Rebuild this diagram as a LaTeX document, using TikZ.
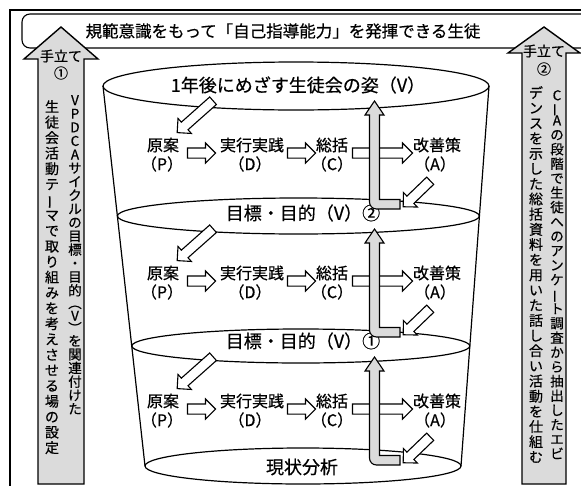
\documentclass[tikz,border=0pt]{standalone}
\usepackage{fontspec}
\usepackage{graphicx}
\newfontfamily\jp[FakeBold=0.5]{Noto Sans CJK JP}
\usetikzlibrary{shapes.arrows,shapes.geometric}
\newcommand\vbar{\rotatebox[origin=c]{90}{ー}}
\newcommand\arrstrut{\rule[-4.5pt]{0pt}{9pt}}
\tikzset{
 ell/.style={ellipse, draw=black, line width=1.2pt, inner sep=0pt, outer sep=0pt},
 sideline/.style={draw=black, line width=1.2pt},
 hollow/.style={single arrow, draw=black, fill=white, line width=1.1pt, single arrow head extend=5pt, single arrow tip angle=90, inner sep=0pt, outer sep=0pt},
 graybody/.style={draw=black, fill=gray!28, line width=1.1pt, line join=miter},
 bigbody/.style={draw=black, fill=gray!28, line width=1.4pt, line join=miter},
 titlef/.style={font=\jp\fontsize{16.5}{18}\selectfont, inner sep=0pt},
 vlab/.style={font=\jp\fontsize{18}{20}\selectfont, inner sep=0pt},
 lbl/.style={font=\jp\fontsize{16}{18}\selectfont, inner sep=0pt},
 small/.style={font=\jp\fontsize{14}{16}\selectfont, inner sep=0pt},
 colA/.style={font=\jp\fontsize{14}{15.5}\selectfont, align=center, inner sep=0pt, anchor=north},
 colAr/.style={font=\jp\fontsize{13.5}{13.6}\selectfont, align=center, inner sep=0pt, anchor=north},
 colB/.style={font=\jp\fontsize{14}{15.17}\selectfont, align=center, inner sep=0pt, anchor=north},
 colC/.style={font=\jp\fontsize{13.5}{14.5}\selectfont, align=center, inner sep=0pt, anchor=north},
}
\begin{document}
\begin{tikzpicture}[x=1pt,y=-1pt]
\useasboundingbox (0,0) rectangle (581,485);
\fill[white] (0,0) rectangle (581,485);
% outer frame
\draw[line width=1.6pt] (10,490) -- (10,10) -- (590,10);
% title box
\draw[line width=1.1pt, rounded corners=8pt, fill=white] (22,14) rectangle (600,48);
\node[titlef] (title) at (283,31) {規範意識をもって「自己指導能力」を発揮できる生徒};
% bucket
\node[ell, minimum width=386pt, minimum height=48pt] (e1) at (296,86) {};
\node[ell, minimum width=362pt, minimum height=36pt] (e2) at (298.4,216) {};
\node[ell, minimum width=338pt, minimum height=34pt] (e3) at (300.8,346) {};
\node[ell, minimum width=316pt, minimum height=36pt] (e4) at (303,466) {};
\draw[sideline] (e1.west) -- (e4.west);
\draw[sideline] (e1.east) -- (e4.east);
\node[vlab] (t1) at (298,85) {1年後にめざす生徒会の姿（V）};
\node[vlab] (t2) at (303,213) {目標・目的（V）②};
\node[vlab] (t3) at (303,341) {目標・目的（V）①};
\node[vlab] (t4) at (302,467) {現状分析};
% bands
\foreach \k/\o in {1/0,2/128,3/256}{
  \node[lbl] (p\k) at (163,145+\o) {原案};
  \node[lbl] (pp\k) at (162,164+\o) {（P）};
  \node[lbl] (d\k) at (252,145+\o) {実行実践};
  \node[lbl] (dd\k) at (250,164+\o) {（D）};
  \node[lbl] (c\k) at (332,145+\o) {総括};
  \node[lbl] (cc\k) at (332,164+\o) {（C）};
  \node[lbl] (a\k) at (437,145+\o) {改善策};
  \node[lbl] (aa\k) at (435,164+\o) {（A）};
  \node[hollow, minimum height=28pt] (hpd\k) at (199,153+\o) {\arrstrut};
  \node[hollow, minimum height=28pt] (hdc\k) at (299,153+\o) {\arrstrut};
  \node[hollow, minimum height=60pt] (hca\k) at (380,153+\o) {\arrstrut};
  \node[hollow, minimum height=48pt, rotate=221.6] (gin\k) at (197,115+\o) {\arrstrut};
  \node[hollow, minimum height=37.5pt, rotate=223.9] (gout\k) at (418.5,192+\o) {\arrstrut};
  \draw[graybody] (400,209+\o) {[rounded corners=7pt] -- (369.5,209+\o) -- (369.5,160+\o)} -- (369.5,115+\o) -- (365,115+\o) -- (374.5,101+\o) -- (384,115+\o) -- (379.5,115+\o) -- (379.5,199.5+\o) -- (400,199.5+\o) -- cycle;
}
% left big arrow
\draw[bigbody] (38,484) -- (38,59) -- (24,59) -- (61,27) -- (98,59) -- (84,59) -- (84,484) -- cycle;
\node[small] (ta1) at (61,56) {手立て};
\node[small] (n1) at (61,73) {①};
\node[colAr] (la) at (75,95) {V\\P\\D\\C\\A\\サ\\イ\\ク\\ル\\の\\目\\標\\・\\目\\的\\[-1pt]︵\\[-1pt]V\\[-1pt]︶\\[-1pt]を\\関\\連\\付\\け\\た};
\node[colA] (lb) at (52,100) {生\\徒\\会\\活\\動\\テ\\\vbar\\マ\\で\\取\\り\\組\\み\\を\\考\\え\\さ\\せ\\る\\場\\の\\設\\定};
% right big arrow
\draw[bigbody] (522,484) -- (522,53) -- (508,53) -- (544,27) -- (580,53) -- (566,53) -- (566,484) -- cycle;
\node[small] (ta2) at (544,51) {手立て};
\node[small] (n2) at (544,69) {②};
\node[colC] (ra) at (557,90) {C\\[-2pt]\vbar\\[-2pt]A\\の\\段\\階\\で\\生\\徒\\へ\\の\\ア\\ン\\ケ\\\vbar\\ト\\調\\査\\か\\ら\\抽\\出\\し\\た\\エ\\ビ};
\node[colB] (rb) at (536,86) {デ\\ン\\ス\\を\\示\\し\\た\\総\\括\\資\\料\\を\\用\\い\\た\\話\\し\\合\\い\\活\\動\\を\\仕\\組\\む};
\end{tikzpicture}
\end{document}
